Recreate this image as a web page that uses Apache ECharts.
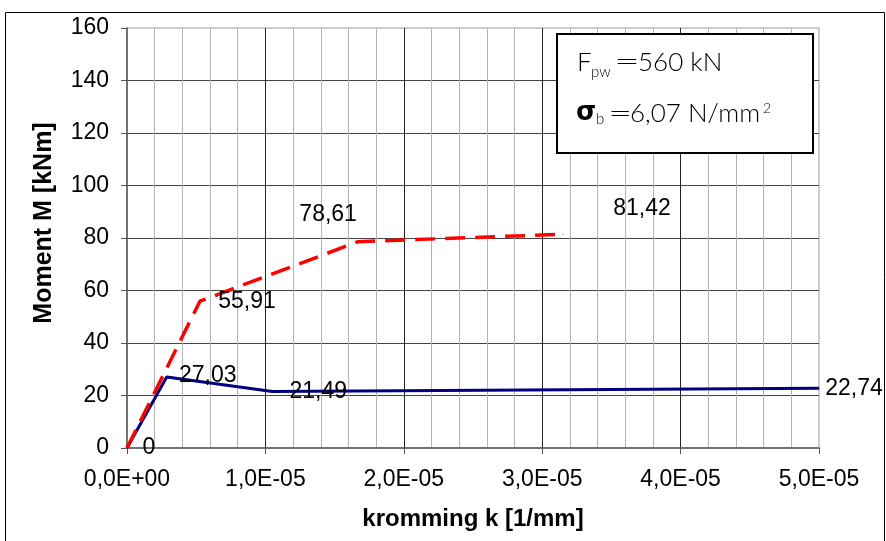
<!DOCTYPE html>
<html>
<head>
<meta charset="utf-8">
<script src="https://cdn.jsdelivr.net/npm/echarts@6/dist/echarts.min.js"></script>
<style>
  html, body { margin: 0; padding: 0; background: #fff; }
  #chart { width: 886px; height: 541px; }
</style>
</head>
<body>
<div id="chart"></div>
<script>
// Moment-curvature diagram: two curves, curvature k [1/mm] against moment M [kNm]
const curvatureBlue = [0, 2.87e-6, 1.05e-5, 5.0e-5];
const momentBlue    = [0, 27.03, 21.49, 22.74];
const curvatureRed  = [0, 5.27e-6, 1.67e-5, 3.15e-5];
const momentRed     = [0, 55.91, 78.61, 81.42];

// which points carry a value label, and where the label sits relative to the point
const labelOffsetsBlue = [[22, 0], [41, -1], [46, 0], [35, 0]];
const labelOffsetsRed  = [null, [47, 0], [-30, -27], [79, -26]];

const xTickStep = 1e-5;
const yTickStep = 20;

function fmtExp(v) {
  const s = v.toExponential(1);            // e.g. "3.0e-5"
  const parts = s.split('e');
  const mant = parts[0].replace('.', ',');
  let exp = parseInt(parts[1], 10);
  const sign = exp < 0 ? '-' : '+';
  exp = Math.abs(exp);
  return mant + 'E' + sign + (exp < 10 ? '0' + exp : String(exp));
}
function fmtVal(v) {
  return v === 0 ? '0' : v.toFixed(2).replace('.', ',');
}
function buildData(xs, ys, offsets) {
  return xs.map((x, i) => {
    const item = { value: [x, ys[i]] };
    const off = offsets[i];
    item.label = off
      ? { show: true, position: 'inside', align: 'center', verticalAlign: 'middle', offset: off }
      : { show: false };
    return item;
  });
}

const labelStyle = {
  show: true,
  formatter: p => fmtVal(p.value[1]),
  color: '#000',
  fontFamily: 'Liberation Sans, Arial, sans-serif',
  fontSize: 23
};

const chart = echarts.init(document.getElementById('chart'), null, { renderer: 'canvas' });

chart.setOption({
  backgroundColor: '#fff',
  animation: false,
  grid: {
    left: 127, top: 28, width: 692, height: 420,
    show: true, borderColor: '#9a9a9a', borderWidth: 1, backgroundColor: '#fff'
  },
  xAxis: {
    type: 'value', min: 0, max: 5e-5, interval: xTickStep,
    name: 'kromming k [1/mm]', nameLocation: 'middle', nameGap: 59,
    nameTextStyle: { fontFamily: 'Liberation Sans, Arial, sans-serif', fontWeight: 'bold', fontSize: 24, color: '#000' },
    axisLine: { show: true, lineStyle: { color: '#555', width: 1.5 } },
    axisTick: { show: true, length: 6, lineStyle: { color: '#555' } },
    axisLabel: {
      margin: 20, color: '#000', fontFamily: 'Liberation Sans, Arial, sans-serif', fontSize: 23,
      formatter: fmtExp
    },
    splitLine: { show: true, showMinLine: false, showMaxLine: false, lineStyle: { color: '#222', width: 1 } },
    minorTick: { show: false, splitNumber: 5 },
    minorSplitLine: { show: true, lineStyle: { color: '#b4b4b4', width: 1 } }
  },
  yAxis: {
    type: 'value', min: 0, max: 160, interval: yTickStep,
    name: 'Moment M [kNm]', nameLocation: 'middle', nameGap: 70,
    nameTextStyle: { fontFamily: 'Liberation Sans, Arial, sans-serif', fontWeight: 'bold', fontSize: 25, color: '#000', padding: [0, 0, 0, 30] },
    axisLine: { show: true, lineStyle: { color: '#555', width: 1.5 } },
    axisTick: { show: true, length: 6, lineStyle: { color: '#555' } },
    axisLabel: { margin: 18, color: '#000', fontFamily: 'Liberation Sans, Arial, sans-serif', fontSize: 23 },
    splitLine: { show: true, showMinLine: false, showMaxLine: false, lineStyle: { color: '#444', width: 1 } }
  },
  series: [
    {
      type: 'line',
      data: buildData(curvatureBlue, momentBlue, labelOffsetsBlue),
      symbol: 'circle', symbolSize: 1, showSymbol: true,
      itemStyle: { color: '#000080' },
      lineStyle: { color: '#000080', width: 3 },
      label: labelStyle,
      z: 3
    },
    {
      type: 'line',
      data: buildData(curvatureRed, momentRed, labelOffsetsRed),
      symbol: 'circle', symbolSize: 1, showSymbol: true,
      itemStyle: { color: '#ff0000' },
      lineStyle: { color: '#ff0000', width: 3.5, type: [20, 10] },
      label: labelStyle,
      z: 4
    }
  ],
  graphic: [
    // outer chart frame
    { type: 'rect', silent: true, z: 0, shape: { x: 5.5, y: 12.5, width: 879, height: 540 },
      style: { fill: null, stroke: '#000', lineWidth: 1 } },
    // annotation box
    { type: 'rect', z: 100, shape: { x: 557, y: 34, width: 256, height: 119 },
      style: { fill: '#fff', stroke: '#000', lineWidth: 2 } },
    { type: 'text', z: 101, x: 577, y: 63,
      style: { text: 'F', font: '300 26px Lato, "Open Sans", sans-serif', fill: '#000', verticalAlign: 'middle' } },
    { type: 'text', z: 101, x: 591, y: 72,
      style: { text: 'pw', font: '300 15px Lato, "Open Sans", sans-serif', fill: '#000', verticalAlign: 'middle' } },
    { type: 'text', z: 101, x: 614, y: 62, scaleX: 1.6,
      style: { text: '=', font: '300 28px Lato, "Open Sans", sans-serif', fill: '#000', verticalAlign: 'middle' } },
    { type: 'text', z: 101, x: 638, y: 63,
      style: { text: '560 kN', font: '300 26px Lato, "Open Sans", sans-serif', fill: '#000', verticalAlign: 'middle' } },
    { type: 'text', z: 101, x: 576, y: 113,
      style: { text: 'σ', font: 'bold 26px "DejaVu Sans", sans-serif', fill: '#000', verticalAlign: 'middle' } },
    { type: 'text', z: 101, x: 596, y: 119,
      style: { text: 'b', font: '300 15px Lato, "Open Sans", sans-serif', fill: '#000', verticalAlign: 'middle' } },
    { type: 'text', z: 101, x: 608, y: 114, scaleX: 1.5,
      style: { text: '=', font: '300 28px Lato, "Open Sans", sans-serif', fill: '#000', verticalAlign: 'middle' } },
    { type: 'text', z: 101, x: 630, y: 114,
      style: { text: '6,07 N/mm', font: '300 26px Lato, "Open Sans", sans-serif', fill: '#000', verticalAlign: 'middle' } },
    { type: 'text', z: 101, x: 763, y: 108,
      style: { text: '2', font: '300 14px Lato, "Open Sans", sans-serif', fill: '#000', verticalAlign: 'middle' } }
  ]
});
</script>
</body>
</html>
